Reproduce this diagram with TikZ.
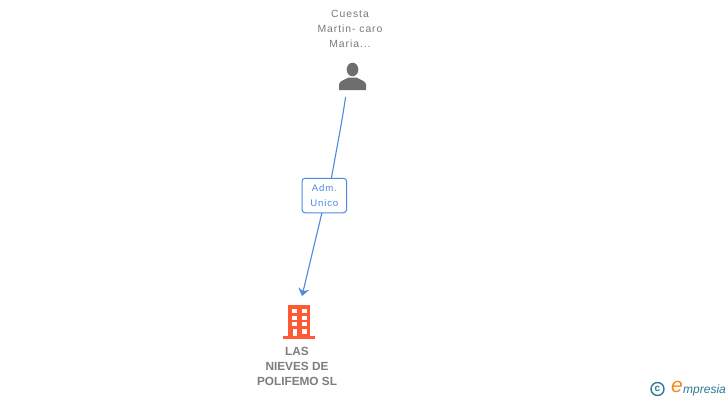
\documentclass[tikz,border=0pt]{standalone}
\usepackage{fontspec}
\setmainfont{Liberation Sans}
\newfontfamily\spaced[LetterSpace=9]{Liberation Sans}
\definecolor{persongray}{HTML}{6E6E6E}
\definecolor{persontext}{HTML}{7A7A7A}
\definecolor{linkblue}{HTML}{4A8AE0}
\definecolor{companyred}{HTML}{FF5A33}
\definecolor{companytext}{HTML}{7D7D7D}
\definecolor{logoteal}{HTML}{2F7A96}
\definecolor{logoorange}{HTML}{F08A1E}
\usetikzlibrary{arrows.meta}
\tikzset{
  personlabel/.style={text=persontext,font=\spaced\fontsize{10.4pt}{15pt}\selectfont,align=center,inner sep=0pt},
  companylabel/.style={text=companytext,font=\bfseries\fontsize{11.8pt}{15pt}\selectfont,align=center,inner sep=0pt},
  rolelabel/.style={draw=linkblue,line width=1pt,rounded corners=3pt,fill=white,text=linkblue,
    font=\spaced\fontsize{9.6pt}{15pt}\selectfont,align=center,inner sep=0pt,minimum width=44.5pt,minimum height=34.5pt},
  conn/.style={draw=linkblue,line width=1.1pt},
  connarrow/.style={conn,-{Stealth[length=7.5pt,width=11pt]}},
}
\begin{document}
\begin{tikzpicture}[x=1pt,y=-1pt]
\useasboundingbox (0,0) rectangle (728,400);
\fill[white] (0,0) rectangle (728,400);
% person
\node[personlabel] (pname) at (350,29) {Cuesta\\Martin- caro\\Maria...};
\fill[persongray] (352.5,69.5) ellipse (5.8pt and 6.8pt);
\fill[persongray] (339,90) -- (339,84.5) .. controls (339.5,81) and (344,80) .. (348.5,77.5)
  -- (356.5,77.5) .. controls (361,80) and (365.5,81) .. (366,84.5) -- (366,90) -- cycle;
\coordinate (pout) at (345.6,97);
% company
\coordinate (cin) at (302,296);
\fill[companyred] (288,305) rectangle (310,337);
\fill[companyred] (283,336) rectangle (315,339);
\foreach \yy in {309,316,322} {
  \fill[white] (292,\yy) rectangle (297,\yy+4.3);
  \fill[white] (302,\yy) rectangle (307,\yy+4.3);
}
\fill[white] (302,329) rectangle (307,333.5);
\fill[white] (292.5,329) rectangle (296.5,336);
\node[companylabel] (cname) at (297,366.2) {LAS\\NIEVES DE\\POLIFEMO SL};
% connector with label
\node[rolelabel] (role) at (324.3,195.5) {Adm.\\Unico};
\draw[conn] (pout) .. controls (342,122) and (336,152) .. (role.68);
\draw[connarrow] (role.262) -- (cin);
% logo
\node[draw=logoteal,circle,line width=1.4pt,minimum size=13pt,inner sep=0pt,text=logoteal,font=\bfseries\fontsize{10pt}{10pt}\selectfont] (copy) at (657.5,389) {c};
\node[inner sep=0pt,text=logoorange,font=\itshape\fontsize{21pt}{21pt}\selectfont] (elogo) at (677,386.5) {e};
\node[inner sep=0pt,text=logoteal,font=\itshape\fontsize{12pt}{12pt}\selectfont,anchor=west] (mlogo) at (683,390) {mpresia};
\end{tikzpicture}
\end{document}
